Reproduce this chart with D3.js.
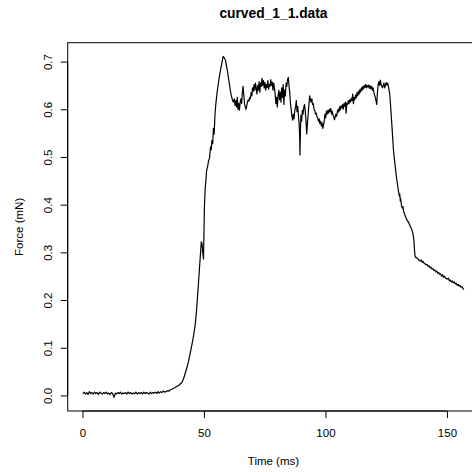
<!DOCTYPE html>
<html>
<head>
<meta charset="utf-8">
<script src="https://cdn.jsdelivr.net/npm/d3@7"></script>
<style>
  html, body { margin: 0; padding: 0; background: #fff; }
  svg { display: block; font-family: "Liberation Sans", Arial, Helvetica, sans-serif; }
</style>
</head>
<body>
<svg id="chart" width="472" height="472"></svg>
<script>
const chartTitle = "curved_1_1.data";
const xLabel = "Time (ms)";
const yLabel = "Force (mN)";
const xTicks = [0, 50, 100, 150];
const yTicks = [0.0, 0.1, 0.2, 0.3, 0.4, 0.5, 0.6, 0.7];

// Time (ms)
const timeMs = [
0.2,0.7,1.2,1.8,2.3,2.8,3.4,3.9,4.4,5.0,5.5,6.0,6.6,7.1,7.6,8.2,8.7,9.2,9.8,10.3,
10.8,11.4,11.9,12.4,13.0,13.5,14.0,14.6,15.1,15.6,16.2,16.7,17.2,17.8,18.3,18.8,19.4,19.9,20.4,21.0,
21.5,22.0,22.6,23.1,23.6,24.2,24.7,25.2,25.8,26.3,26.8,27.4,27.9,28.4,29.0,29.5,30.0,30.6,31.1,31.6,
32.2,32.7,33.2,33.8,34.4,35.0,35.6,36.2,36.8,37.4,38.0,38.6,39.2,39.8,40.4,41.0,41.6,42.2,42.8,43.4,
44.0,44.6,45.2,45.8,46.4,46.9,47.3,47.7,48.1,48.5,48.9,49.2,49.5,49.8,50.0,50.2,50.5,50.8,51.1,51.5,
51.9,52.3,52.7,53.0,53.3,53.6,53.9,54.2,54.5,54.9,55.4,55.9,56.4,56.9,57.4,57.9,58.4,58.9,59.3,59.7,
60.1,60.5,60.9,61.3,61.7,62.1,62.5,62.8,63.1,63.4,63.7,64.0,64.3,64.6,64.9,65.2,65.5,65.8,66.1,66.4,
66.7,67.0,67.3,67.6,67.9,68.2,68.5,68.8,69.1,69.4,69.7,70.0,70.3,70.6,70.9,71.2,71.5,71.8,72.1,72.4,
72.7,73.0,73.3,73.6,73.9,74.2,74.5,74.8,75.1,75.4,75.7,76.0,76.3,76.6,76.9,77.2,77.5,77.8,78.1,78.4,
78.7,79.0,79.3,79.6,79.9,80.2,80.5,80.8,81.1,81.4,81.7,82.0,82.3,82.6,82.9,83.2,83.5,83.8,84.1,84.4,
84.7,85.0,85.3,85.6,85.9,86.2,86.5,86.8,87.1,87.4,87.7,88.0,88.3,88.6,88.9,89.2,89.4,89.5,89.7,89.9,
90.2,90.5,90.8,91.1,91.4,91.7,92.0,92.3,92.6,92.9,93.2,93.5,93.8,94.1,94.4,94.7,95.0,95.3,95.6,95.9,
96.2,96.5,96.8,97.1,97.4,97.7,98.0,98.3,98.6,98.9,99.2,99.5,99.8,100.1,100.4,100.7,101.0,101.3,101.6,101.9,
102.2,102.5,102.8,103.1,103.4,103.7,104.0,104.3,104.6,104.9,105.2,105.5,105.8,106.1,106.4,106.7,107.0,107.3,107.6,107.9,
108.2,108.5,108.8,109.1,109.4,109.7,110.0,110.3,110.6,110.9,111.2,111.5,111.8,112.1,112.4,112.7,113.0,113.3,113.6,113.9,
114.2,114.5,114.8,115.1,115.4,115.7,116.0,116.3,116.6,116.9,117.2,117.5,117.8,118.1,118.4,118.7,119.0,119.3,119.6,119.9,
120.2,120.5,120.8,121.1,121.4,121.7,122.0,122.3,122.6,122.9,123.2,123.5,123.8,124.1,124.4,124.7,125.0,125.3,125.6,125.9,
126.2,126.5,126.8,127.1,127.4,127.7,128.0,128.4,128.8,129.2,129.6,130.0,130.4,130.6,130.8,131.0,131.3,131.6,131.9,132.2,
132.6,133.0,133.4,133.8,134.2,134.6,135.0,135.4,135.8,136.1,136.4,136.6,136.8,137.0,137.4,137.8,138.2,138.6,139.0,139.4,
139.8,140.2,140.6,141.0,141.4,141.8,142.2,142.6,143.0,143.4,143.8,144.2,144.6,145.0,145.4,145.8,146.2,146.6,147.0,147.4,
147.8,148.2,148.6,149.0,149.4,149.8,150.2,150.6,151.0,151.4,151.8,152.2,152.6,153.0,153.4,153.8,154.2,154.6,155.0,155.4,
155.8,156.2,156.6,157.0
];

// Force (mN)
const forceMN = [
0.004,0.007,0.003,0.006,0.002,0.008,0.004,0.006,0.003,0.007,0.004,0.006,0.002,0.007,0.005,0.003,0.006,0.004,0.007,0.003,
0.005,0.002,0.006,0.004,-0.004,0.005,0.003,0.006,0.004,0.007,0.003,0.005,0.004,0.006,0.003,0.007,0.004,0.006,0.003,0.005,
0.004,0.007,0.003,0.006,0.004,0.006,0.003,0.007,0.004,0.006,0.005,0.003,0.007,0.004,0.006,0.005,0.007,0.004,0.008,0.005,
0.008,0.006,0.009,0.007,0.008,0.010,0.009,0.012,0.013,0.015,0.016,0.018,0.020,0.022,0.025,0.028,0.035,0.045,0.055,0.066,
0.080,0.095,0.110,0.128,0.148,0.175,0.203,0.232,0.262,0.292,0.322,0.318,0.300,0.286,0.340,0.395,0.434,0.450,0.472,0.480,
0.492,0.498,0.521,0.515,0.535,0.528,0.560,0.548,0.585,0.612,0.635,0.654,0.670,0.684,0.698,0.711,0.708,0.702,0.690,0.680,
0.665,0.652,0.638,0.628,0.620,0.615,0.622,0.608,0.618,0.605,0.625,0.600,0.612,0.598,0.615,0.622,0.612,0.635,0.648,0.630,
0.612,0.605,0.600,0.607,0.615,0.620,0.617,0.625,0.622,0.635,0.628,0.645,0.638,0.652,0.640,0.655,0.645,0.632,0.650,0.640,
0.658,0.636,0.655,0.648,0.665,0.650,0.660,0.645,0.656,0.640,0.652,0.646,0.660,0.642,0.652,0.648,0.662,0.650,0.657,0.640,
0.655,0.645,0.632,0.612,0.625,0.605,0.628,0.640,0.620,0.636,0.615,0.645,0.625,0.652,0.610,0.640,0.628,0.655,0.648,0.662,
0.667,0.650,0.635,0.612,0.600,0.585,0.577,0.590,0.580,0.598,0.605,0.618,0.595,0.606,0.585,0.568,0.540,0.504,0.555,0.588,
0.575,0.598,0.590,0.605,0.610,0.595,0.575,0.548,0.572,0.590,0.610,0.628,0.620,0.615,0.622,0.610,0.612,0.600,0.598,0.590,
0.592,0.585,0.582,0.575,0.580,0.570,0.575,0.565,0.572,0.560,0.566,0.575,0.590,0.582,0.596,0.590,0.598,0.592,0.600,0.595,
0.602,0.590,0.596,0.588,0.585,0.578,0.583,0.590,0.585,0.595,0.600,0.594,0.605,0.598,0.607,0.603,0.610,0.600,0.612,0.606,
0.615,0.592,0.613,0.610,0.618,0.612,0.620,0.615,0.623,0.618,0.632,0.612,0.625,0.620,0.630,0.624,0.635,0.628,0.638,0.632,
0.642,0.636,0.645,0.640,0.648,0.643,0.650,0.646,0.652,0.645,0.650,0.647,0.651,0.644,0.649,0.643,0.648,0.640,0.645,0.636,
0.630,0.625,0.618,0.610,0.635,0.652,0.658,0.650,0.661,0.652,0.648,0.645,0.650,0.655,0.645,0.650,0.656,0.651,0.655,0.648,
0.640,0.630,0.608,0.585,0.562,0.538,0.514,0.494,0.476,0.458,0.444,0.430,0.418,0.422,0.408,0.412,0.398,0.393,0.396,0.385,
0.380,0.374,0.369,0.366,0.363,0.358,0.354,0.349,0.344,0.336,0.326,0.308,0.295,0.290,0.289,0.287,0.286,0.283,0.282,0.284,
0.279,0.281,0.277,0.276,0.274,0.275,0.271,0.272,0.268,0.269,0.265,0.266,0.262,0.263,0.259,0.261,0.256,0.258,0.254,0.255,
0.250,0.253,0.248,0.250,0.246,0.245,0.244,0.246,0.240,0.242,0.238,0.240,0.236,0.238,0.234,0.235,0.231,0.233,0.229,0.231,
0.227,0.228,0.224,0.222
];

const data = timeMs.map((t, i) => ({ t, f: forceMN[i] }));

const svg = d3.select("#chart");
const plot = { left: 67.7, right: 479.2, top: 42.7, bottom: 411 };

// R-style 4% padded domains
function padded(ext) { const r = ext[1] - ext[0]; return [ext[0] - 0.04 * r, ext[1] + 0.04 * r]; }
const x = d3.scaleLinear().domain(padded(d3.extent(timeMs))).range([plot.left, plot.right]);
const y = d3.scaleLinear().domain(padded(d3.extent(forceMN))).range([plot.bottom, plot.top]);

// data line
const line = d3.line().x(d => x(d.t)).y(d => y(d.f));
svg.append("path")
  .datum(data)
  .attr("d", line)
  .attr("fill", "none")
  .attr("stroke", "#000")
  .attr("stroke-width", 1.2)
  .attr("stroke-linejoin", "round");

// box
svg.append("rect")
  .attr("x", plot.left).attr("y", plot.top)
  .attr("width", plot.right - plot.left).attr("height", plot.bottom - plot.top)
  .attr("fill", "none").attr("stroke", "#000").attr("stroke-width", 1);

// x axis
const gx = svg.append("g")
  .attr("transform", `translate(0,${plot.bottom})`)
  .call(d3.axisBottom(x).tickValues(xTicks).tickSize(7).tickSizeOuter(0).tickFormat(d3.format("d")));
gx.select(".domain").attr("d", `M${x(xTicks[0])},0H${x(xTicks[xTicks.length - 1])}`).attr("stroke", "#000");
gx.selectAll(".tick line").attr("stroke", "#000");
gx.selectAll(".tick text")
  .attr("y", 26.3).attr("dy", null)
  .attr("fill", "#000")
  .style("font-size", "11.5px")
  .style("font-family", "'Liberation Sans', Arial, sans-serif");

// y axis
const gy = svg.append("g")
  .attr("transform", `translate(${plot.left},0)`)
  .call(d3.axisLeft(y).tickValues(yTicks).tickSize(7).tickSizeOuter(0).tickFormat(d3.format(".1f")));
gy.select(".domain").attr("d", `M0,${y(yTicks[0])}V${y(yTicks[yTicks.length - 1])}`).attr("stroke", "#000");
gy.selectAll(".tick line").attr("stroke", "#000");
gy.selectAll(".tick text")
  .attr("x", null).attr("dy", null)
  .attr("text-anchor", "middle")
  .attr("transform", "translate(-15.5,0) rotate(-90)")
  .attr("fill", "#000")
  .style("font-size", "11.5px")
  .style("font-family", "'Liberation Sans', Arial, sans-serif");

// title
const cx = (plot.left + plot.right) / 2;
svg.append("text")
  .attr("x", cx).attr("y", 18)
  .attr("text-anchor", "middle")
  .style("font-size", "13.8px").style("font-weight", "bold")
  .text(chartTitle);

// axis titles
svg.append("text")
  .attr("x", cx).attr("y", 464.5)
  .attr("text-anchor", "middle")
  .style("font-size", "11.5px")
  .text(xLabel);

svg.append("text")
  .attr("transform", `translate(23,${(plot.top + plot.bottom) / 2}) rotate(-90)`)
  .attr("text-anchor", "middle")
  .style("font-size", "11.5px")
  .text(yLabel);
</script>
</body>
</html>
